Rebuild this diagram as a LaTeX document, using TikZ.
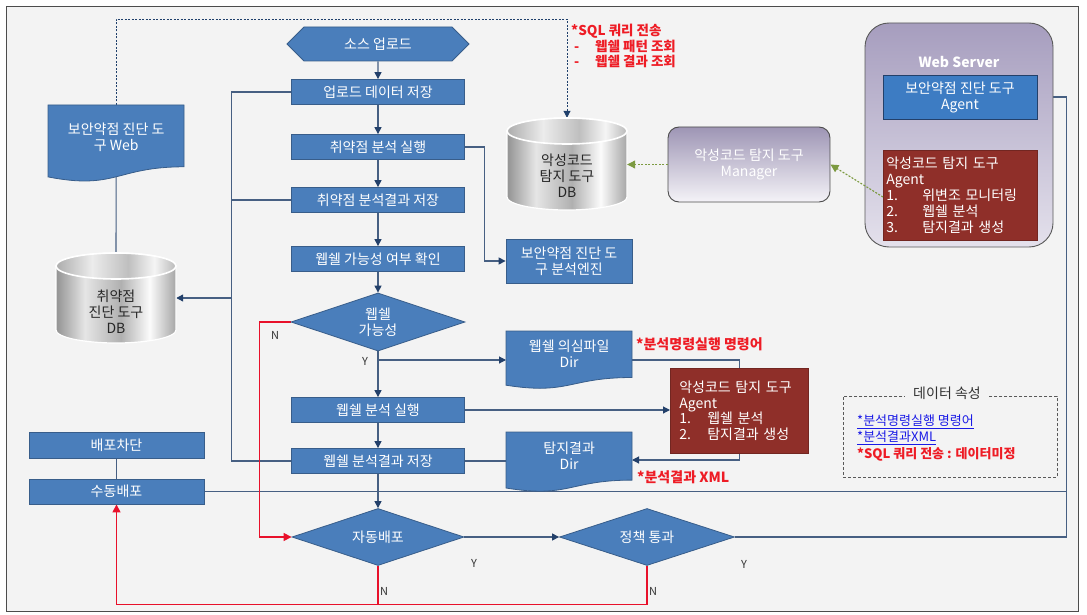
\documentclass[tikz,border=0pt]{standalone}
\usepackage{fontspec}
\setmainfont{Noto Sans CJK KR}
\usetikzlibrary{shapes.geometric,shapes.symbols,arrows.meta}
\pgfdeclarelayer{back}\pgfdeclarelayer{lines}\pgfsetlayers{back,lines,main}
\definecolor{bgc}{HTML}{F3F3F3}
\definecolor{bbox}{HTML}{4A7EBB}
\definecolor{bborder}{HTML}{385D8A}
\definecolor{agentblue}{HTML}{3D7CC3}
\definecolor{rbox}{HTML}{8F2F29}
\definecolor{lnc}{HTML}{465F82}
\definecolor{arrc}{HTML}{23406A}
\definecolor{rln}{HTML}{E8102A}
\definecolor{olv}{HTML}{7C9A40}
\definecolor{redtxt}{HTML}{EE1C25}
\definecolor{lav}{HTML}{A69DBE}
\definecolor{lavlt}{HTML}{E4E1EC}
\definecolor{lnkblue}{HTML}{1A1AE6}
\definecolor{navyd}{HTML}{1F3F6B}
\pgfdeclarehorizontalshading{metalsh}{100bp}{color(0bp)=(gray!85); color(25bp)=(gray!85); color(37bp)=(gray!20); color(52bp)=(gray!62); color(64bp)=(gray!3); color(75bp)=(gray!70); color(100bp)=(gray!70)}
\pgfdeclarehorizontalshading{metaltop}{100bp}{color(0bp)=(gray!65); color(25bp)=(gray!65); color(40bp)=(gray!15); color(55bp)=(gray!50); color(66bp)=(gray!8); color(75bp)=(gray!55); color(100bp)=(gray!55)}
\newcommand\bxf{\fontsize{14}{16}\selectfont}
\newcommand\smf{\fontsize{11}{13}\selectfont}
\begin{document}
\begin{tikzpicture}[x=1pt,y=-1pt,
  bluebox/.style={rectangle, fill=bbox, draw=bborder, line width=0.8pt, text=white, font=\bxf, minimum width=173pt, minimum height=25pt, inner sep=1pt, align=center},
  dia/.style={diamond, fill=bbox, draw=bborder, line width=0.8pt, text=white, font=\bxf, minimum width=174pt, minimum height=58pt, inner sep=0pt, aspect=3, align=center},
  conn/.style={draw=lnc, line width=1.1pt},
  arr/.style={conn, -{Triangle[length=7pt,width=7pt,color=arrc]}},
  rconn/.style={draw=rln, line width=1.2pt},
  rarr/.style={rconn, -{Triangle[length=8pt,width=8pt]}},
  garr/.style={draw=olv, line width=1.1pt, dash pattern=on 2pt off 1.5pt, -{Triangle[length=8pt,width=8pt]}},
  yn/.style={font=\smf, text=black!80, inner sep=0pt},
  redlbl/.style={font=\bxf\bfseries, text=redtxt, inner sep=0pt, align=left},
  doctext/.style={text=white, font=\bxf, align=center, inner sep=0pt},
  dbtext/.style={text=black!85, font=\bxf, align=center, inner sep=0pt},
  metal/.style={shading=metalsh, draw=white, line width=1.2pt},
  metaltp/.style={shading=metaltop, draw=white, line width=1.6pt},
]
\begin{pgfonlayer}{back}
\path[use as bounding box, fill=white] (0,0) rectangle (1087,615);
\draw[fill=bgc, draw=black!70, line width=1pt] (6,7) rectangle (1078,611);
\end{pgfonlayer}

% main column
\node[signal, signal to=east and west, signal pointer angle=90, fill=bbox, draw=bborder, line width=0.8pt, text=white, font=\bxf, minimum width=182pt, minimum height=34pt, inner sep=1pt] (src) at (378,44) {소스 업로드};
\node[bluebox] (up) at (378,92) {업로드 데이터 저장};
\node[bluebox] (run) at (378,147) {취약점 분석 실행};
\node[bluebox] (save) at (378,200) {취약점 분석결과 저장};
\node[bluebox] (chk) at (378,259) {웹쉘 가능성 여부 확인};
\node[dia] (d1) at (378,322) {웹쉘\\가능성};
\node[bluebox] (srun) at (378,410) {웹쉘 분석 실행};
\node[bluebox] (ssave) at (378,461) {웹쉘 분석결과 저장};
\node[dia, minimum width=172pt, minimum height=57pt] (d2) at (378,537) {자동배포};
\node[dia, minimum width=175pt, minimum height=57pt] (d3) at (647,537) {정책 통과};
\node[bluebox, minimum width=126pt, minimum height=44pt] (eng) at (569,261) {보안약점 진단 도\\구 분석엔진};
\node[bluebox, minimum width=175pt, minimum height=26pt] (block) at (116.5,445) {배포차단};
\node[bluebox, minimum width=175pt, minimum height=25pt] (manual) at (116.5,491.5) {수동배포};

% documents
\filldraw[fill=bbox, draw=bborder, line width=0.8pt] (48,105) -- (184,105) -- (184,166.8) .. controls (116,166.8) and (116,190.2) .. (48,176.9) -- cycle;
\node[doctext, minimum width=136pt, minimum height=64pt, anchor=north west] (wdoc) at (48,105) {보안약점 진단 도\\구 Web};
\filldraw[fill=bbox, draw=bborder, line width=0.8pt] (506,331) -- (632,331) -- (632,377.5) .. controls (569,377.5) and (569,395.2) .. (506,385.2) -- cycle;
\node[doctext, minimum width=126pt, minimum height=46pt, anchor=north west] (sdir) at (506,331) {웹쉘 의심파일\\Dir};
\filldraw[fill=bbox, draw=bborder, line width=0.8pt] (506,432) -- (632,432) -- (632,480.1) .. controls (569,480.1) and (569,498.4) .. (506,488) -- cycle;
\node[doctext, minimum width=126pt, minimum height=48pt, anchor=north west] (rdir) at (506,432) {탐지결과\\Dir};

% cylinders
\path[metal] (56,266) -- (56,330) arc[start angle=180,end angle=360,x radius=60pt,y radius=13pt] -- (176,266) arc[start angle=0,end angle=180,x radius=60pt,y radius=13pt] -- cycle;
\path[metaltp] (116,266) ellipse [x radius=60pt, y radius=13pt];
\node[minimum width=120pt, minimum height=90pt, inner sep=0pt] (db1) at (116,298) {};
\node[dbtext] (db1t) at (116,312) {취약점\\진단 도구\\DB};

\path[metal] (507,131) -- (507,197) arc[start angle=180,end angle=360,x radius=60pt,y radius=13pt] -- (627,131) arc[start angle=0,end angle=180,x radius=60pt,y radius=13pt] -- cycle;
\path[metaltp] (567,131) ellipse [x radius=60pt, y radius=13pt];
\node[minimum width=120pt, minimum height=92pt, inner sep=0pt] (db2) at (567,164) {};
\node[dbtext] (db2t) at (567,176) {악성코드\\탐지 도구\\DB};

% web server & manager
\node[draw=black!65, line width=0.9pt, rounded corners=24pt, top color=lav, bottom color=lavlt, minimum width=188pt, minimum height=224pt, inner sep=0pt] (ws) at (959,135) {};
\node[font=\bxf\bfseries, text=white] (wst) at (959,62) {Web Server};
\node[fill=agentblue, draw=arrc, line width=0.8pt, text=white, font=\bxf, minimum width=154pt, minimum height=44pt, align=center, inner sep=0pt] (aga) at (960,97) {보안약점 진단 도구\\Agent};
\node[fill=rbox, draw=rbox!80!black, line width=0.6pt, text=white, font=\fontsize{14}{16}\selectfont, minimum height=90pt, text width=148pt, align=left, inner xsep=3pt, inner ysep=0pt, anchor=north west] (agb) at (883,150) {악성코드 탐지 도구\\Agent\\\makebox[36pt][l]{1.}위변조 모니터링\\\makebox[36pt][l]{2.}웹쉘 분석\\\makebox[36pt][l]{3.}탐지결과 생성};
\node[draw=black!70, line width=0.9pt, rounded corners=11pt, top color=lav!95!black, bottom color=lavlt!40!white, minimum width=162pt, minimum height=75pt, text=white, font=\bxf, align=center] (mgr) at (749,164.5) {악성코드 탐지 도구\\Manager};

% middle agent
\node[fill=rbox, draw=rbox!80!black, line width=0.6pt, text=white, font=\fontsize{14}{15.5}\selectfont, minimum height=85pt, text width=120pt, align=left, inner xsep=9pt, inner ysep=0pt, anchor=north west] (ag2) at (670,368) {악성코드 탐지 도구\\Agent\\\makebox[28pt][l]{1.}웹쉘 분석\\\makebox[28pt][l]{2.}탐지결과 생성};

% legend
\node[draw=black!65, line width=0.9pt, dash pattern=on 3pt off 2pt, minimum width=214pt, minimum height=81pt, inner sep=0pt, anchor=north west] (legend) at (843,396) {};
\node[fill=bgc, font=\bxf, text=black!80, inner xsep=8pt, inner ysep=1pt] (legt) at (947,393) {데이터 속성};
\node[anchor=west, font=\fontsize{13}{15}\selectfont, text=lnkblue, inner sep=0pt] (l1) at (857,422) {\underline{*분석명령실행 명령어}};
\node[anchor=west, font=\fontsize{13}{15}\selectfont, text=lnkblue, inner sep=0pt] (l2) at (857,438) {\underline{*분석결과XML}};
\node[anchor=west, font=\fontsize{13}{15}\selectfont\bfseries, text=redtxt, inner sep=0pt] (l3) at (857,454) {*SQL 쿼리 전송 : 데이터미정};

% red labels
\node[redlbl, anchor=north west, font=\fontsize{13.5}{15.5}\selectfont\bfseries] (sql) at (571,24) {*SQL 쿼리 전송\\\hspace*{3pt}\makebox[21pt][l]{-}웹쉘 패턴 조회\\\hspace*{3pt}\makebox[21pt][l]{-}웹쉘 결과 조회};
\node[redlbl, anchor=west] (cmd) at (636,344) {*분석명령실행 명령어};
\node[redlbl, anchor=west] (xml) at (637,477) {*분석결과 XML};

% Y / N labels
\node[yn] (n1) at (275,335) {N};
\node[yn] (y1) at (365,361) {Y};
\node[yn] (y2) at (474,563) {Y};
\node[yn] (y3) at (744,564) {Y};
\node[yn] (n2) at (384,591) {N};
\node[yn] (n3) at (653,591) {N};

\coordinate (yb) at (378,360);
\coordinate (r460) at (632,460);
\coordinate (busdb) at (232,298);
\coordinate (jn) at (1066.5,491.5);
\coordinate (rb) at (378,604.5);

\begin{pgfonlayer}{lines}
\draw[arr] (src) -- (up);
\draw[arr] (up) -- (run);
\draw[arr] (run) -- (save);
\draw[arr] (save) -- (chk);
\draw[arr] (chk) -- (d1);
\draw[arr] (d1) -- (srun);
\draw[arr] (srun) -- (ssave);
\draw[arr] (ssave) -- (d2);
\draw[conn] (up.west) -- ++(-60,0) |- (ssave.west);
\draw[conn] (save.west) -- ++(-60,0);
\draw[arr] (busdb) -- (db1.east);
\draw[arr] (run.east) -- ++(20,0) |- (eng.west);
\draw[conn] (wdoc.south) -- (db1.north);
\draw[draw=navyd, line width=0.9pt, dash pattern=on 2pt off 1.5pt, -{Triangle[length=7pt,width=7pt]}] (wdoc.north) -- ++(0,-86) -| (db2.north);
\draw[arr] (yb) -- (yb -| sdir.west);
\draw[conn] (sdir.east |- yb) -| (ag2.north);
\draw[arr] (srun.east) -- (srun.east -| ag2.west);
\draw[arr] (ag2.south) |- (r460);
\draw[conn] (ssave.east) -- (ssave.east -| rdir.west);
\draw[arr] (d2.east) -- (d3.west);
\draw[arr] (d3.east) -- ++(332,0) |- (aga.east);
\draw[conn] (manual.east) -- (jn);
\draw[conn] (block.south) -- (manual.north);
\draw[rarr] (d1.west) -- ++(-31,0) |- (d2.west);
\draw[rarr] (d2.south) -- (rb) -| (manual.south);
\draw[rconn] (d3.south) |- (rb);
\end{pgfonlayer}
\draw[garr] (mgr.west) -- (mgr.west -| db2.east);
\draw[garr] (agb.west |- 0,197) -- (mgr.east);
\end{tikzpicture}
\end{document}
